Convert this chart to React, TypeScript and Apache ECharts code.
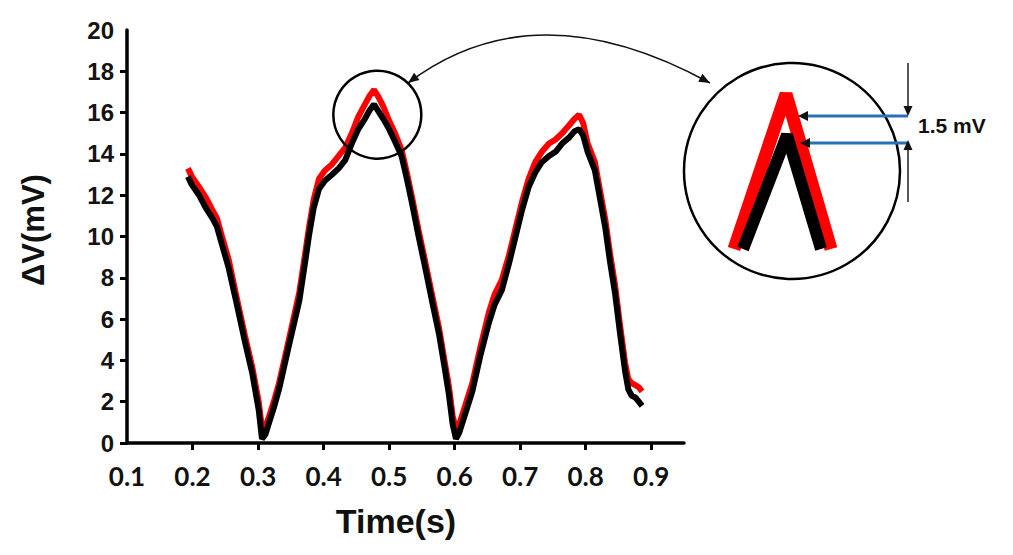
import React, { useEffect, useRef } from "react";
import * as echarts from "echarts";

// ---- data ----
const TIME = [
  0.193, 0.199, 0.21, 0.22, 0.23, 0.237, 0.245, 0.255, 0.267, 0.28, 0.291, 0.301,
  0.306, 0.311, 0.316, 0.324, 0.332, 0.347, 0.363, 0.372, 0.378, 0.385, 0.393,
  0.402, 0.413, 0.423, 0.433, 0.443, 0.453, 0.463, 0.47, 0.477, 0.483, 0.491,
  0.5, 0.509, 0.519, 0.527, 0.535, 0.545, 0.555, 0.566, 0.576, 0.585, 0.591,
  0.597, 0.602, 0.607, 0.614, 0.621, 0.627, 0.639, 0.652, 0.661, 0.672, 0.683,
  0.693, 0.703, 0.713, 0.723, 0.733, 0.744, 0.754, 0.764, 0.775, 0.783, 0.79,
  0.796, 0.803, 0.814, 0.822, 0.83, 0.837, 0.845, 0.852, 0.86, 0.865, 0.87,
  0.876, 0.881, 0.886,
];
const BLACK = [
  12.9, 12.5, 12.0, 11.4, 10.9, 10.5, 9.6, 8.5, 6.8, 4.9, 3.4, 1.6,
  0.2, 0.4, 0.9, 1.7, 2.6, 4.7, 6.9, 8.8, 10.1, 11.4, 12.3,
  12.7, 13.0, 13.3, 13.7, 14.5, 15.2, 15.7, 16.1, 16.4, 16.1, 15.7,
  15.2, 14.6, 13.9, 12.8, 11.6, 10.0, 8.5, 6.8, 5.3, 3.6, 2.4,
  0.9, 0.2, 0.5, 1.2, 1.9, 2.5, 4.2, 5.8, 6.7, 7.4, 8.7,
  10.0, 11.3, 12.4, 13.1, 13.6, 13.9, 14.1, 14.5, 14.8, 15.1, 15.2,
  14.9, 14.1, 13.2, 11.8, 10.4, 8.8, 7.2, 5.4, 3.5, 2.6, 2.3,
  2.2, 2.0, 1.8,
];
const RED = [
  13.3, 12.9, 12.4, 11.9, 11.3, 10.9, 10.0, 8.9, 7.1, 5.2, 3.7, 2.0,
  0.7, 0.8, 1.2, 2.0, 2.9, 5.0, 7.3, 9.2, 10.5, 11.8, 12.8,
  13.2, 13.5, 13.9, 14.3, 15.0, 15.8, 16.4, 16.8, 17.1, 16.8, 16.3,
  15.6, 15.0, 14.2, 13.1, 11.9, 10.3, 8.8, 7.1, 5.6, 3.9, 2.8,
  1.3, 0.7, 0.9, 1.6, 2.3, 2.9, 4.6, 6.3, 7.2, 7.9, 9.1,
  10.4, 11.7, 12.8, 13.6, 14.1, 14.5, 14.7, 15.0, 15.4, 15.7, 15.9,
  15.5, 14.5, 13.6, 12.2, 10.8, 9.2, 7.6, 5.8, 3.9, 3.1, 2.9,
  2.8, 2.7, 2.5,
];
const X_LABELS = [0.1, 0.2, 0.3, 0.4, 0.5, 0.6, 0.7, 0.8, 0.9];
const X_TICKS = [0.2, 0.3, 0.4, 0.5, 0.6, 0.7, 0.8, 0.9];
const Y_TICKS = [0, 2, 4, 6, 8, 10, 12, 14, 16, 18];
const ZOOM_CENTER = [0.482, 15.9];
const DELTA_LABEL = "1.5 mV";

function arrowHead(tx: number, ty: number, fx: number, fy: number, len: number, half: number, color: string) {
  const dx = tx - fx;
  const dy = ty - fy;
  const d = Math.sqrt(dx * dx + dy * dy);
  const ux = dx / d;
  const uy = dy / d;
  const bx = tx - ux * len;
  const by = ty - uy * len;
  const px = -uy;
  const py = ux;
  return {
    type: "polygon",
    shape: {
      points: [
        [tx, ty],
        [bx + px * half, by + py * half],
        [bx - px * half, by - py * half],
      ],
    },
    style: { fill: color },
    z: 20,
  };
}

export default function App() {
  const ref = useRef<HTMLDivElement>(null);
  useEffect(() => {
    if (!ref.current) return;
    const chart = echarts.init(ref.current, undefined, { renderer: "svg" });
    const pair = (vals: number[]) => TIME.map((t, i) => [t, vals[i]]);
    chart.setOption({
      animation: false,
      backgroundColor: "#ffffff",
      grid: { left: 127, right: 329, top: 30, bottom: 112 },
      xAxis: {
        type: "value",
        min: 0.1,
        max: 0.95,
        interval: 0.1,
        splitLine: { show: false },
        axisLine: { show: true, onZero: false, lineStyle: { color: "#000", width: 3.5 } },
        axisTick: { show: true, customValues: X_TICKS, length: 7, lineStyle: { color: "#000", width: 3 } },
        axisLabel: {
          customValues: X_LABELS,
          formatter: (v: number) => v.toFixed(1),
          margin: 20,
          fontFamily: "Lato",
          fontWeight: "bold",
          fontSize: 26,
          color: "#111",
        },
      },
      yAxis: {
        type: "value",
        min: 0,
        max: 20,
        interval: 2,
        splitLine: { show: false },
        axisLine: { show: true, lineStyle: { color: "#000", width: 3.5 } },
        axisTick: { show: true, customValues: Y_TICKS, length: 7, lineStyle: { color: "#000", width: 3 } },
        axisLabel: {
          margin: 13,
          fontFamily: "Liberation Sans",
          fontWeight: "bold",
          fontSize: 24,
          color: "#141414",
        },
      },
      series: [
        {
          type: "line",
          name: "red",
          data: pair(RED),
          showSymbol: false,
          lineStyle: { color: "#ff0000", width: 6 },
          z: 2,
        },
        {
          type: "line",
          name: "black",
          data: pair(BLACK),
          showSymbol: false,
          lineStyle: { color: "#000000", width: 6 },
          z: 3,
        },
      ],
    });

    const c = chart.convertToPixel({ gridIndex: 0 }, ZOOM_CENTER) as number[];
    const blue = "#2c70b4";
    const graphic: any[] = [
      {
        type: "text",
        x: 396,
        y: 521,
        style: {
          text: "Time(s)",
          fontFamily: "Liberation Sans",
          fontWeight: "bold",
          fontSize: 34,
          fill: "#111",
          textAlign: "center",
          textVerticalAlign: "middle",
        },
      },
      {
        type: "text",
        x: 33,
        y: 230,
        rotation: Math.PI / 2,
        style: {
          text: "ΔV(mV)",
          fontFamily: "Liberation Sans",
          fontWeight: "bold",
          fontSize: 31,
          fill: "#111",
          textAlign: "center",
          textVerticalAlign: "middle",
        },
      },
      {
        type: "circle",
        shape: { cx: c[0], cy: c[1], r: 44 },
        style: { fill: "none", stroke: "#000", lineWidth: 2.5 },
        z: 10,
      },
      {
        type: "bezierCurve",
        shape: { x1: 408, y1: 83, x2: 710, y2: 83, cpx1: 535, cpy1: -13 },
        style: { fill: "none", stroke: "#111", lineWidth: 1.6 },
        z: 10,
      },
      arrowHead(408, 83, 535, -13, 11, 4.5, "#111"),
      arrowHead(710, 83, 535, -13, 11, 4.5, "#111"),
      {
        type: "circle",
        shape: { cx: 792, cy: 171, r: 108 },
        style: { fill: "none", stroke: "#000", lineWidth: 2.5 },
        z: 10,
      },
      {
        type: "polyline",
        shape: { points: [[734, 249], [786, 94], [831, 249]] },
        style: { fill: "none", stroke: "#ff0000", lineWidth: 13, lineJoin: "bevel" },
        z: 11,
      },
      {
        type: "polyline",
        shape: { points: [[743, 249], [787, 135], [821, 249]] },
        style: { fill: "none", stroke: "#000", lineWidth: 12, lineJoin: "bevel" },
        z: 12,
      },
      {
        type: "line",
        shape: { x1: 908, y1: 116, x2: 806, y2: 116 },
        style: { stroke: blue, lineWidth: 3 },
        z: 13,
      },
      arrowHead(798, 116, 908, 116, 10, 5, "#111"),
      {
        type: "line",
        shape: { x1: 908, y1: 143, x2: 808, y2: 143 },
        style: { stroke: blue, lineWidth: 3 },
        z: 13,
      },
      arrowHead(800, 143, 908, 143, 10, 5, "#111"),
      {
        type: "line",
        shape: { x1: 908, y1: 63, x2: 908, y2: 108 },
        style: { stroke: "#111", lineWidth: 1.4 },
        z: 13,
      },
      arrowHead(908, 116, 908, 63, 10, 4.5, "#111"),
      {
        type: "line",
        shape: { x1: 908, y1: 202, x2: 908, y2: 148 },
        style: { stroke: "#111", lineWidth: 1.4 },
        z: 13,
      },
      arrowHead(908, 140, 908, 202, 10, 4.5, "#111"),
      {
        type: "text",
        x: 918,
        y: 125,
        style: {
          text: DELTA_LABEL,
          fontFamily: "Liberation Sans",
          fontWeight: "bold",
          fontSize: 21,
          fill: "#111",
          textAlign: "left",
          textVerticalAlign: "middle",
        },
        z: 13,
      },
    ];
    chart.setOption({ graphic });
    return () => chart.dispose();
  }, []);
  return (
    <div
      ref={ref}
      style={{ position: "absolute", left: 0, top: 0, width: 1013, height: 555 }}
    />
  );
}
